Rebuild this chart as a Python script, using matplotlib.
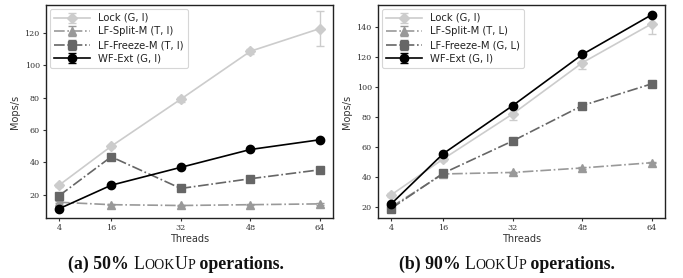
import matplotlib
matplotlib.use("Agg")
import matplotlib.pyplot as plt

threads = [4, 16, 32, 48, 64]
xticks = [4, 16, 32, 48, 64]

# (a) 50% LookUp
a_lock = [26, 50, 79, 108.5, 122.5]
a_lock_err = [1, 1, 1.5, 1.5, 11]
a_split = [15.5, 14, 13.5, 14, 14.5]
a_split_err = [0.5, 0.5, 0.5, 0.5, 0.5]
a_freeze = [19.5, 43.5, 24, 30, 35.5]
a_freeze_err = [0.5, 0.8, 0.5, 0.5, 0.5]
a_wf = [11.5, 26, 37, 48, 54]
a_wf_err = [0.3, 0.3, 0.3, 0.3, 0.3]
a_labels = ["Lock (G, I)", "LF-Split-M (T, I)", "LF-Freeze-M (T, I)", "WF-Ext (G, I)"]

# (b) 90% LookUp
b_lock = [28, 52, 82, 116, 142]
b_lock_err = [1, 1.5, 4, 4, 7]
b_split = [20, 42, 43, 46, 49.5]
b_split_err = [0.5, 0.5, 0.5, 0.5, 0.5]
b_freeze = [19, 42.5, 64, 87.5, 102]
b_freeze_err = [0.5, 0.5, 0.5, 0.5, 0.5]
b_wf = [22, 55.5, 87.5, 121.5, 148]
b_wf_err = [0.3, 0.3, 0.3, 0.5, 0.5]
b_labels = ["Lock (G, I)", "LF-Split-M (T, L)", "LF-Freeze-M (G, L)", "WF-Ext (G, I)"]

styles = [
    dict(color="#cccccc", ls="-", marker="D", ms=5),
    dict(color="#999999", ls="-.", marker="^", ms=6),
    dict(color="#666666", ls="-.", marker="s", ms=5.5),
    dict(color="#000000", ls="-", marker="o", ms=6),
]

fig = plt.figure(figsize=(6.83, 2.78), dpi=100)
W, H = 683, 278
axA = fig.add_axes([46 / W, (H - 218) / H, 287 / W, 213 / H])
axB = fig.add_axes([378 / W, (H - 218) / H, 287 / W, 213 / H])

def draw(ax, series, errs, labels, ylim, yticks):
    for s, e, lab, st in zip(series, errs, labels, styles):
        ax.errorbar(threads, s, yerr=e, color=st["color"], ls=st["ls"],
                    marker=st["marker"], ms=st["ms"], lw=1.2, capsize=3,
                    elinewidth=1, label=lab)
    ax.set_xticks(xticks)
    ax.set_xlim(1, 67)
    ax.set_ylim(*ylim)
    ax.set_yticks(yticks)
    for lbl in ax.get_xticklabels() + ax.get_yticklabels():
        lbl.set_family("DejaVu Serif")
        lbl.set_fontsize(5.8)
        lbl.set_color("#333333")
    ax.tick_params(length=2.5, width=0.8, pad=2, colors="#333333")
    for sp in ax.spines.values():
        sp.set_color("#222222")
        sp.set_linewidth(1.0)
    ax.set_xlabel("Threads", fontsize=7, labelpad=1, color="#333333")
    ax.set_ylabel("Mops/s", fontsize=7, labelpad=3, color="#333333")
    leg = ax.legend(loc="upper left", fontsize=7.2, frameon=True, fancybox=True,
                    handlelength=3.6, borderpad=0.45, labelspacing=0.35,
                    handletextpad=0.8, borderaxespad=0.35)
    leg.get_frame().set_edgecolor("#cccccc")
    leg.get_frame().set_linewidth(0.8)
    for t in leg.get_texts():
        t.set_color("#222222")

draw(axA, [a_lock, a_split, a_freeze, a_wf], [a_lock_err, a_split_err, a_freeze_err, a_wf_err],
     a_labels, (5.8, 137), [20, 40, 60, 80, 100, 120])
draw(axB, [b_lock, b_split, b_freeze, b_wf], [b_lock_err, b_split_err, b_freeze_err, b_wf_err],
     b_labels, (12.7, 154.4), [20, 40, 60, 80, 100, 120, 140])

# Captions with small caps emulation
fig.canvas.draw()
renderer = fig.canvas.get_renderer()
big, small = 12.8, 10.0
fam = "Liberation Serif"

def caption(prefix, cx, cy):
    pieces = [(prefix, big, "bold"), ("L", big, "normal"), ("OOK", small, "normal"),
              ("U", big, "normal"), ("P", small, "normal"), (" operations.", big, "bold")]
    texts = []
    for s, size, weight in pieces:
        t = fig.text(0, cy / H, s, fontsize=size, fontweight=weight, family=fam,
                     va="baseline", ha="left", color="#111111")
        texts.append(t)
    widths = [t.get_window_extent(renderer).width for t in texts]
    total = sum(widths)
    x = cx - total / 2
    for t, w in zip(texts, widths):
        t.set_x(x / W)
        x += w

caption("(a) 50% ", 176, H - 269)
caption("(b) 90% ", 507, H - 269)

fig.savefig("out.png", dpi=100)
